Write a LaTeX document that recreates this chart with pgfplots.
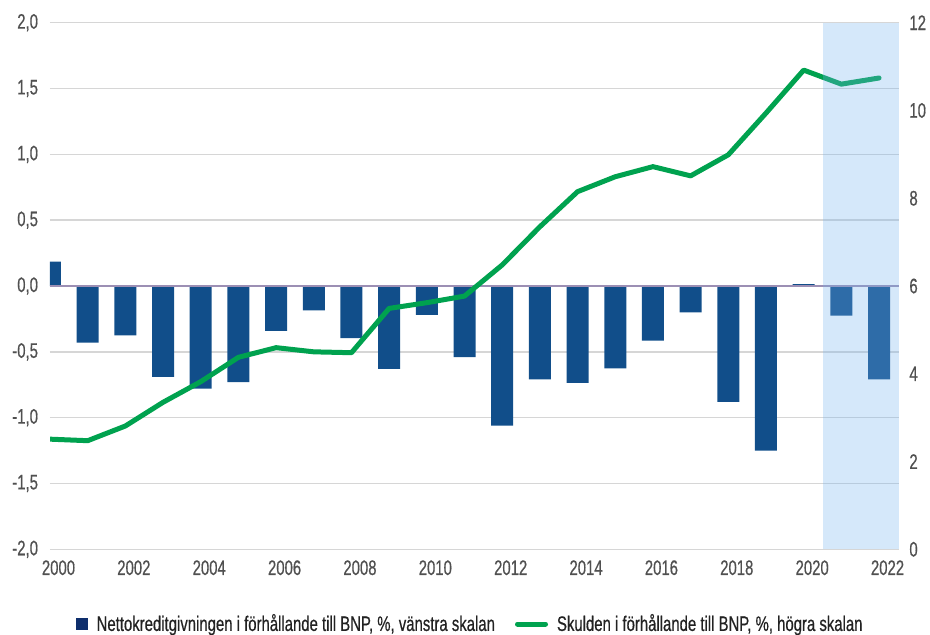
\documentclass[border=0pt]{standalone}
\usepackage{fontspec}
\setmainfont{Liberation Sans}[FakeStretch=0.71, FakeBold=0.5]
\usepackage{pgfplots}
\pgfplotsset{compat=1.18}
\definecolor{barblue}{HTML}{114E8A}
\definecolor{legblue}{HTML}{0E2E6C}
\definecolor{lgreen}{HTML}{00A24F}
\definecolor{gridgray}{HTML}{D6D6D6}
\definecolor{zeroline}{HTML}{9C8FB4}
\definecolor{shade}{HTML}{73B2EE}
\definecolor{ticktext}{HTML}{505050}
\definecolor{legtext}{HTML}{222222}
\begin{document}
\fontsize{10.5}{12.6}\selectfont
\begin{tikzpicture}[font=\fontsize{10.5}{12.6}\selectfont]
\useasboundingbox (-25pt,-42.35pt) rectangle (440pt,274.65pt);
\begin{axis}[
  at={(0,0)}, anchor=south west,
  scale only axis, width=424.5pt, height=263.3pt,
  xmin=2000, xmax=2022.53, ymin=-2, ymax=2,
  axis line style={draw=none}, tick style={draw=none},
  xtick={2000,2002,2004,2006,2008,2010,2012,2014,2016,2018,2020,2022},
  xticklabels={2000,2002,2004,2006,2008,2010,2012,2014,2016,2018,2020,2022},
  xticklabel style={font=\fontsize{10.5}{12.6}\selectfont, text=ticktext, inner sep=0pt, anchor=north, yshift=-5.3pt, xshift=4.25pt},
  ytick={-2,-1.5,-1,-0.5,0,0.5,1,1.5,2},
  yticklabels={{-2,0},{-1,5},{-1,0},{-0,5},{0,0},{0,5},{1,0},{1,5},{2,0}},
  yticklabel style={font=\fontsize{10.5}{12.6}\selectfont, text=ticktext, inner sep=0pt, anchor=east, xshift=-5.8pt},
  ymajorgrids, grid style={gridgray, line width=0.7pt},
  /pgf/number format/assume math mode=true,
]
\addplot[ybar, bar width=11pt, fill=barblue, draw=none] coordinates {
(2000,0.185) (2001,-0.43) (2002,-0.375) (2003,-0.69) (2004,-0.78) (2005,-0.73)
(2006,-0.34) (2007,-0.185) (2008,-0.395) (2009,-0.63) (2010,-0.22) (2011,-0.54)
(2012,-1.06) (2013,-0.71) (2014,-0.735) (2015,-0.625) (2016,-0.415) (2017,-0.20)
(2018,-0.88) (2019,-1.25) (2020,0.015) (2021,-0.225) (2022,-0.71)};
\addplot[zeroline, line width=0.7pt] coordinates {(2000,0) (2022.53,0)};
\end{axis}
\begin{axis}[
  at={(0,0)}, anchor=south west,
  scale only axis, width=424.5pt, height=263.3pt,
  xmin=2000, xmax=2022.53, ymin=0, ymax=12,
  axis y line*=right, axis x line=none,
  axis line style={draw=none}, tick style={draw=none},
  ytick={0,2,4,6,8,10,12},
  yticklabels={0,2,4,6,8,10,12},
  yticklabel style={font=\fontsize{10.5}{12.6}\selectfont, text=ticktext, inner sep=0pt, anchor=west, xshift=5pt},
  /pgf/number format/assume math mode=true,
  legend columns=2,
  legend style={at={(0.496,-0.1419)}, anchor=center, draw=none, fill=none,
    font=\fontsize{10.5}{12.6}\selectfont,
    text=legtext, inner sep=0pt,
    /tikz/every even column/.append style={column sep=8pt}},
  legend cell align=left,
]
\addlegendimage{legend image code/.code={\fill[legblue, draw=none] (0pt,-3pt) rectangle (6pt,3pt); \path[draw=none, fill=none] (0pt,0pt) -- (8.5pt,0pt);}}
\addlegendentry{Nettokreditgivningen i förhållande till BNP, \%, vänstra skalan}
\addplot[lgreen, line width=2.5pt, line join=round, line cap=round,
  legend image code/.code={\draw[lgreen, line width=2.5pt, line cap=round] (1.25pt,0pt) -- (15.25pt,0pt); \path[draw=none, fill=none] (0pt,0pt) -- (19pt,0pt);}]
  coordinates {
(2000,2.51) (2001,2.475) (2002,2.81) (2003,3.35) (2004,3.82) (2005,4.375)
(2006,4.595) (2007,4.50) (2008,4.48) (2009,5.49) (2010,5.62) (2011,5.77)
(2012,6.48) (2013,7.35) (2014,8.15) (2015,8.49) (2016,8.72) (2017,8.51)
(2018,8.99) (2019,9.94) (2020,10.92) (2021,10.60) (2022,10.74)};
\addlegendentry{Skulden i förhållande till BNP, \%, högra skalan}
\addplot[draw=none, fill=shade, fill opacity=0.3, forget plot] coordinates {
(2020.5,0) (2022.53,0) (2022.53,12) (2020.5,12)} -- cycle;
\end{axis}
\end{tikzpicture}
\end{document}
